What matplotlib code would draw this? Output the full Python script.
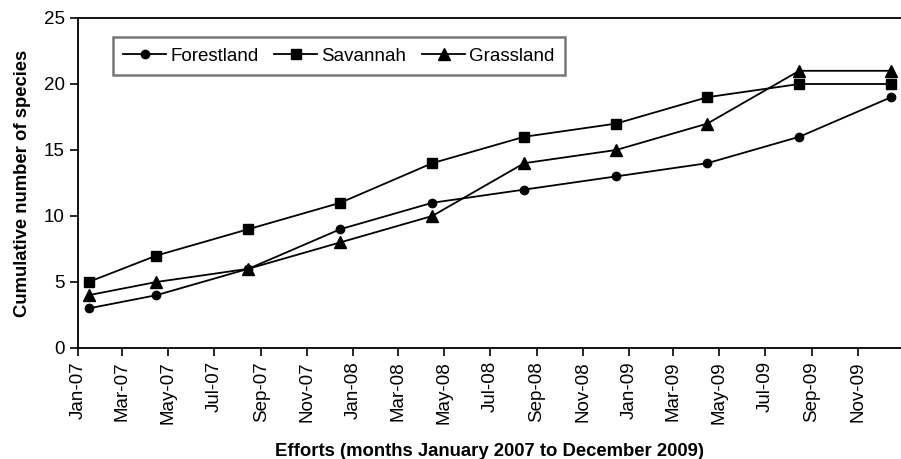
import numpy as np
import pandas as pd
import matplotlib
matplotlib.use('Agg')
import matplotlib.pyplot as plt
import matplotlib.dates as mdates

plt.rcParams['font.family'] = ['Liberation Sans', 'DejaVu Sans']

# sampling dates (mid-month) and cumulative species counts
dates = pd.to_datetime(['2007-01-15', '2007-04-15', '2007-08-15', '2007-12-15',
                        '2008-04-15', '2008-08-15', '2008-12-15', '2009-04-15',
                        '2009-08-15', '2009-12-15'])
forestland = [3, 4, 6, 9, 11, 12, 13, 14, 16, 19]
savannah = [5, 7, 9, 11, 14, 16, 17, 19, 20, 20]
grassland = [4, 5, 6, 8, 10, 14, 15, 17, 21, 21]

fig = plt.figure(figsize=(9.01, 4.59), dpi=100)
ax = fig.add_axes([78 / 901, 1 - 348 / 459, 823 / 901, 330 / 459])

ax.plot(dates, forestland, color='black', lw=1.3, marker='o', ms=6, label='Forestland')
ax.plot(dates, savannah, color='black', lw=1.3, marker='s', ms=7.5, label='Savannah')
ax.plot(dates, grassland, color='black', lw=1.3, marker='^', ms=9, label='Grassland')

ax.set_xlim(pd.Timestamp('2007-01-01'), pd.Timestamp('2009-12-28'))
ax.set_ylim(0, 25)
ax.set_yticks(range(0, 26, 5))

ax.xaxis.set_major_locator(mdates.MonthLocator(bymonth=[1, 3, 5, 7, 9, 11]))
ax.xaxis.set_major_formatter(mdates.DateFormatter('%b-%y'))
plt.setp(ax.get_xticklabels(), rotation=90)

ax.tick_params(axis='both', labelsize=13.5, length=6, width=1.2, direction='out')
for side in ['left', 'bottom', 'top']:
    ax.spines[side].set_linewidth(1.3)
ax.spines['right'].set_visible(False)

ax.set_ylabel('Cumulative number of species', fontsize=13.3, fontweight='bold', labelpad=9)
ax.set_xlabel('Efforts (months January 2007 to December 2009)', fontsize=13.3,
              fontweight='bold', labelpad=14)

leg = ax.legend(ncol=3, loc='upper left', bbox_to_anchor=(0.0425, 0.942), fontsize=13.5,
                frameon=True, fancybox=False, handlelength=2.3, columnspacing=0.85,
                handletextpad=0.2, borderpad=0.55, borderaxespad=0)
leg.get_frame().set_edgecolor('#555555')
leg.get_frame().set_linewidth(1.8)

fig.savefig('out.png', dpi=100)
